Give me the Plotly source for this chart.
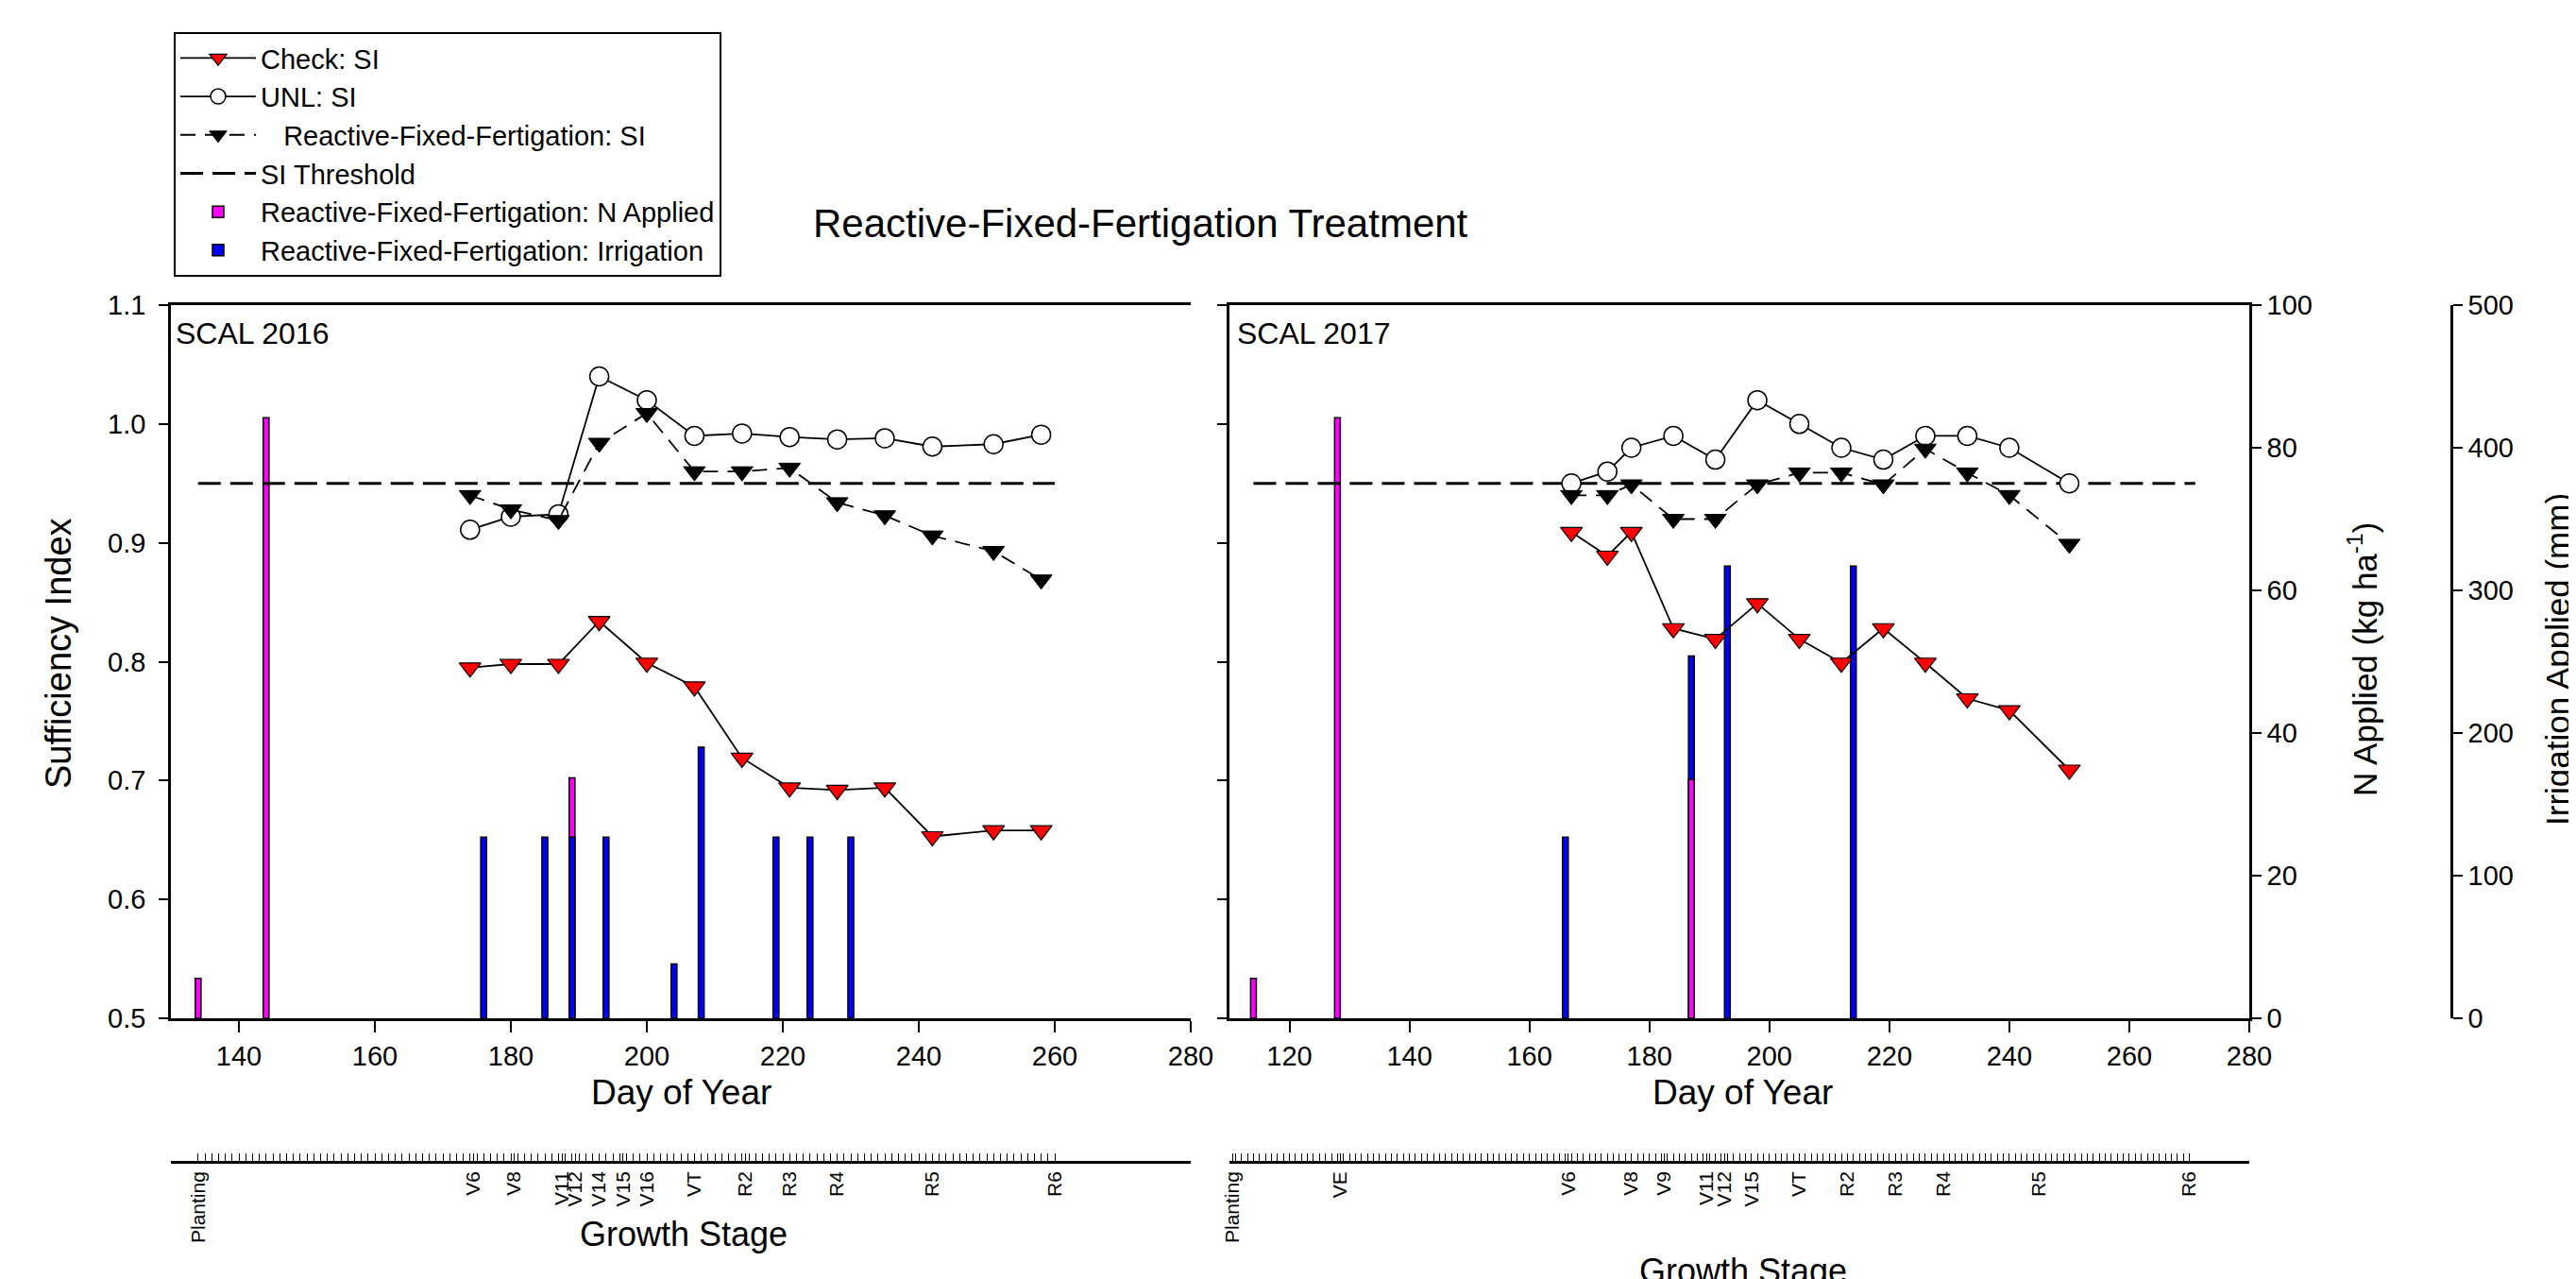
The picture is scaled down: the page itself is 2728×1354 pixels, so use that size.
import plotly.graph_objects as go

# ---------------- data ----------------
# SCAL 2016
days_2016 = [174, 180, 187, 193, 200, 207, 214, 221, 228, 235, 242, 251, 258]
check_si_2016 = [0.795, 0.798, 0.798, 0.834, 0.799, 0.779, 0.719, 0.694, 0.692, 0.694, 0.653, 0.658, 0.658]
unl_si_2016 = [0.911, 0.922, 0.924, 1.040, 1.020, 0.990, 0.992, 0.989, 0.987, 0.988, 0.981, 0.983, 0.991]
rff_si_2016 = [0.940, 0.928, 0.919, 0.984, 1.009, 0.960, 0.960, 0.963, 0.934, 0.923, 0.906, 0.893, 0.869]
threshold_days_2016 = [134, 260]
n_days_2016 = [134, 144, 189]
n_applied_2016 = [5.6, 84.2, 33.7]
irr_days_2016 = [176, 185, 189, 194, 204, 208, 219, 224, 230]
irr_applied_2016 = [127, 127, 127, 127, 38, 190, 127, 127, 127]
stage_days_2016 = [134, 174.5, 180.5, 187.5, 189.5, 193, 196.5, 200, 207, 214.5, 221, 228, 242, 260]
stage_labels_2016 = ["Planting", "V6", "V8", "V11", "V12", "V14", "V15", "V16", "VT", "R2", "R3", "R4", "R5", "R6"]
stage_tick_start_2016, stage_tick_end_2016 = 134, 260

# SCAL 2017
days_2017 = [167, 173, 177, 184, 191, 198, 205, 212, 219, 226, 233, 240, 250]
check_si_2017 = [0.909, 0.889, 0.909, 0.828, 0.819, 0.849, 0.819, 0.799, 0.828, 0.799, 0.769, 0.759, 0.709]
unl_si_2017 = [0.950, 0.960, 0.980, 0.990, 0.970, 1.020, 1.000, 0.980, 0.970, 0.990, 0.990, 0.980, 0.950]
rff_si_2017 = [0.940, 0.940, 0.949, 0.920, 0.920, 0.949, 0.959, 0.959, 0.949, 0.979, 0.959, 0.940, 0.899]
threshold_days_2017 = [114, 271]
n_days_2017 = [114, 128, 187]
n_applied_2017 = [5.6, 84.2, 33.5]
irr_days_2017 = [166, 187, 193, 214]
irr_applied_2017 = [127, 254, 317, 317]
stage_days_2017 = [110.5, 128.5, 166.5, 177, 182.5, 189.5, 192.5, 197, 205, 213, 221, 229, 245, 270]
stage_labels_2017 = ["Planting", "VE", "V6", "V8", "V9", "V11", "V12", "V15", "VT", "R2", "R3", "R4", "R5", "R6"]
stage_tick_start_2017, stage_tick_end_2017 = 110, 270

SI_THRESHOLD = 0.95

# ---------------- styling helpers ----------------
W, H = 2728, 1354
def px(x):
    return x / W
def py(y):
    return 1 - y / H

FONT = "Arial, Liberation Sans, sans-serif"
MAGENTA = "#FF00FF"
BLUE = "#0000FF"

fig = go.Figure()

def add_year(days, check, unl, rff, thr_days, n_days, n_vals, irr_days, irr_vals,
             xa, y_n, y_irr, y_si, bar_w, legend):
    fig.add_trace(go.Bar(x=n_days, y=n_vals, xaxis=xa, yaxis=y_n, width=bar_w,
                         marker=dict(color=MAGENTA, line=dict(color="black", width=1.5)),
                         name="Reactive-Fixed-Fertigation: N Applied", showlegend=legend,
                         legendrank=5))
    fig.add_trace(go.Bar(x=irr_days, y=irr_vals, xaxis=xa, yaxis=y_irr, width=bar_w,
                         marker=dict(color=BLUE, line=dict(color="black", width=1.5)),
                         name="Reactive-Fixed-Fertigation: Irrigation", showlegend=legend,
                         legendrank=6))
    fig.add_trace(go.Scatter(x=thr_days, y=[SI_THRESHOLD] * len(thr_days), xaxis=xa, yaxis=y_si,
                             mode="lines", line=dict(color="black", width=3, dash="24px,10px"),
                             name="SI Threshold", showlegend=legend, legendrank=4))
    fig.add_trace(go.Scatter(x=days, y=unl, xaxis=xa, yaxis=y_si, mode="lines+markers",
                             line=dict(color="black", width=1.8),
                             marker=dict(symbol="circle", size=20, color="white",
                                         line=dict(color="black", width=1.5)),
                             name="UNL: SI", showlegend=legend, legendrank=2))
    fig.add_trace(go.Scatter(x=days, y=rff, xaxis=xa, yaxis=y_si, mode="lines+markers",
                             line=dict(color="black", width=1.8, dash="16px,10px"),
                             marker=dict(symbol="triangle-down", size=20, color="black",
                                         line=dict(color="black", width=1)),
                             name="\u00a0\u00a0\u00a0Reactive-Fixed-Fertigation: SI",
                             showlegend=legend, legendrank=3))
    fig.add_trace(go.Scatter(x=days, y=check, xaxis=xa, yaxis=y_si, mode="lines+markers",
                             line=dict(color="black", width=1.8),
                             marker=dict(symbol="triangle-down", size=20, color="#FF0000",
                                         line=dict(color="black", width=1.2)),
                             name="Check: SI", showlegend=legend, legendrank=1))

# left panel: base y = N (hidden), y3 = irrigation (hidden), y4 = SI (visible)
add_year(days_2016, check_si_2016, unl_si_2016, rff_si_2016, threshold_days_2016,
         n_days_2016, n_applied_2016, irr_days_2016, irr_applied_2016,
         "x", "y", "y3", "y4", 0.85, True)
# right panel: base y2 = irrigation (hidden), y5 = N (visible, right), y6 = irrigation axis, y7 = SI
add_year(days_2017, check_si_2017, unl_si_2017, rff_si_2017, threshold_days_2017,
         n_days_2017, n_applied_2017, irr_days_2017, irr_applied_2017,
         "x2", "y5", "y2", "y7", 0.95, False)

# placeholder traces so that the extra axes get drawn
fig.add_trace(go.Scatter(x=[None], y=[None], xaxis="x2", yaxis="y6", showlegend=False,
                         mode="markers", hoverinfo="skip"))
fig.add_trace(go.Scatter(x=[None], y=[None], xaxis="x3", yaxis="y8", showlegend=False,
                         mode="markers", hoverinfo="skip"))
fig.add_trace(go.Scatter(x=[None], y=[None], xaxis="x4", yaxis="y9", showlegend=False,
                         mode="markers", hoverinfo="skip"))

left_dom = [px(173), px(1253)]
right_dom = [px(1294), px(2374)]
main_y = [py(1070), py(315)]
stage_y = [py(1221), py(1190)]

tickfont = dict(family=FONT, size=29, color="black")
common_x = dict(showline=True, linecolor="black", linewidth=2.5, mirror=True, ticks="outside",
                ticklen=12, tickwidth=2, tickcolor="black", showgrid=False, zeroline=False,
                tickfont=tickfont, automargin=False, dtick=20)
hidden_y = dict(visible=False, showgrid=False, zeroline=False, automargin=False, fixedrange=True)
si_axis = dict(showline=True, linecolor="black", linewidth=2.5, ticks="outside", ticklen=10,
               tickwidth=2, tickcolor="black", showgrid=False, zeroline=False, range=[0.5, 1.1],
               tickvals=[0.5, 0.6, 0.7, 0.8, 0.9, 1.0, 1.1], tickformat=".1f", tickfont=tickfont,
               automargin=False, side="left", ticklabelstandoff=8)
right_axis = dict(side="right", showline=True, linecolor="black", linewidth=2.5, ticks="outside",
                  ticklen=10, tickwidth=2, tickcolor="black", showgrid=False, zeroline=False,
                  tickfont=tickfont, automargin=False)

def stage_axis(dom, rng, tvals, tlabels, t0, t1, anchor):
    return dict(domain=dom, range=rng, anchor=anchor, showline=True, linecolor="black",
                linewidth=2.5, tickmode="array", tickvals=tvals, ticktext=tlabels, tickangle=-90,
                ticks="inside", ticklen=8, tickwidth=1, tickcolor="black",
                tickfont=dict(family=FONT, size=21, color="black"),
                minor=dict(tickmode="array", tickvals=list(range(t0, t1 + 1)), ticks="inside",
                           ticklen=8, tickwidth=1, tickcolor="black"),
                showgrid=False, zeroline=False, automargin=False)

fig.update_layout(
    template="none",
    width=W, height=H, autosize=False,
    margin=dict(l=0, r=0, t=0, b=0, pad=0),
    paper_bgcolor="white", plot_bgcolor="rgba(0,0,0,0)",
    font=dict(family=FONT, color="black"),
    barmode="overlay",
    xaxis=dict(domain=left_dom, range=[130, 280], anchor="y", **common_x),
    xaxis2=dict(domain=right_dom, range=[110, 280], anchor="y2", **common_x),
    xaxis3=stage_axis(left_dom, [130, 280], stage_days_2016, stage_labels_2016,
                      stage_tick_start_2016, stage_tick_end_2016, "y8"),
    xaxis4=stage_axis(right_dom, [110, 280], stage_days_2017, stage_labels_2017,
                      stage_tick_start_2017, stage_tick_end_2017, "y9"),
    yaxis=dict(domain=main_y, range=[0, 100], anchor="x", **hidden_y),
    yaxis3=dict(overlaying="y", range=[0, 500], anchor="x", **hidden_y),
    yaxis4=dict(overlaying="y", anchor="x", **si_axis),
    yaxis2=dict(domain=main_y, range=[0, 500], anchor="x2", **hidden_y),
    yaxis5=dict(overlaying="y2", anchor="x2", range=[0, 100],
                tickvals=[0, 20, 40, 60, 80, 100], **right_axis),
    yaxis6=dict(overlaying="y2", anchor="free", position=px(2588), range=[0, 500],
                tickvals=[0, 100, 200, 300, 400, 500], **right_axis),
    yaxis7=dict(overlaying="y2", anchor="x2", **(si_axis | dict(showticklabels=False))),
    yaxis8=dict(domain=stage_y, range=[0, 1], anchor="x3", **hidden_y),
    yaxis9=dict(domain=stage_y, range=[0, 1], anchor="x4", **hidden_y),
    legend=dict(x=px(176), y=py(26), xanchor="left", yanchor="top",
                bordercolor="black", borderwidth=2, bgcolor="white",
                font=dict(family=FONT, size=29, color="black"),
                itemwidth=80, traceorder="normal", tracegroupgap=0,
                itemclick=False, itemdoubleclick=False),
    showlegend=True,
)

ann = [
    dict(text="Reactive-Fixed-Fertigation Treatment", x=px(1200), y=py(228), size=42, angle=0),
    dict(text="Sufficiency Index", x=px(54), y=py(684), size=38, angle=-90),
    dict(text="N Applied (kg ha<sup>-1</sup>)", x=px(2494), y=py(690), size=35, angle=-90),
    dict(text="Irrigation Applied (mm)", x=px(2700), y=py(690), size=35, angle=-90),
    dict(text="Day of Year", x=px(713), y=py(1148), size=37, angle=0),
    dict(text="Day of Year", x=px(1838), y=py(1148), size=37, angle=0),
    dict(text="Growth Stage", x=px(716), y=py(1298), size=36, angle=0),
    dict(text="Growth Stage", x=px(1838), y=py(1337), size=36, angle=0),
]
for a in ann:
    fig.add_annotation(text=a["text"], x=a["x"], y=a["y"], xref="paper", yref="paper",
                       xanchor="center", yanchor="middle", showarrow=False,
                       textangle=a["angle"], font=dict(family=FONT, size=a["size"], color="black"))

for txt, xl in [("SCAL 2016", 176), ("SCAL 2017", 1300)]:
    fig.add_annotation(text=txt, x=px(xl), y=py(345), xref="paper", yref="paper",
                       xanchor="left", yanchor="middle", showarrow=False,
                       font=dict(family=FONT, size=32, color="black"))

fig.write_html("out.html")
